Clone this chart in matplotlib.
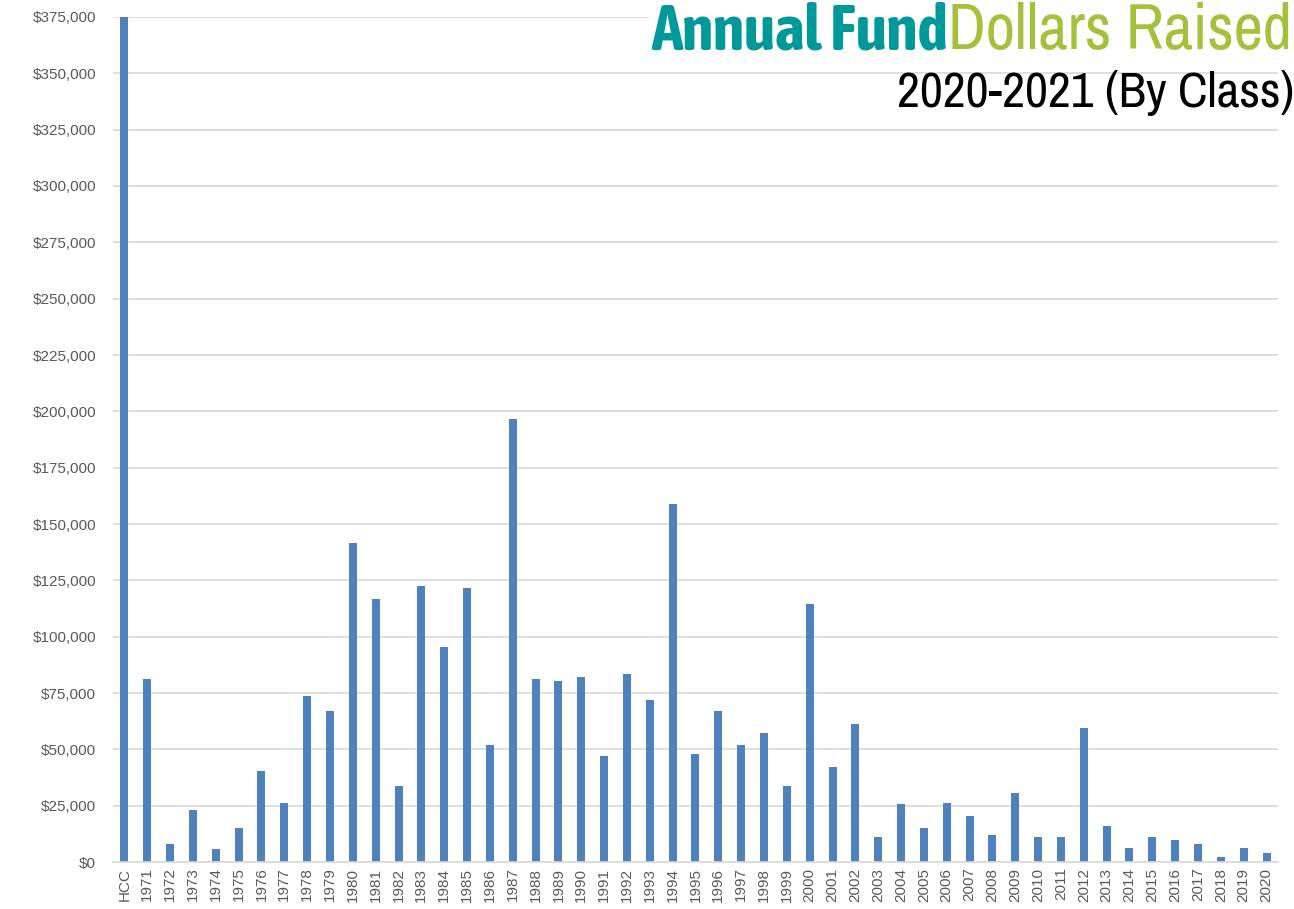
import matplotlib
matplotlib.use("Agg")
import matplotlib.pyplot as plt
import matplotlib.font_manager as fm
from matplotlib.ticker import FuncFormatter, MultipleLocator

# class labels and dollars raised
classes = ["HCC"] + [str(y) for y in range(1971, 2021)]
dollars = [
    375000,                                            # HCC (runs off the top)
    81200, 7800, 22900, 5600, 15300, 40300, 26000, 73600, 67000, 141700,   # 1971-1980
    116800, 33600, 122600, 95400, 121700, 51800, 196800, 81200, 80300, 82100,  # 1981-1990
    46900, 83400, 71800, 159000, 47800, 67000, 51800, 57200, 33600, 114500,    # 1991-2000
    42000, 61200, 11300, 25600, 15300, 26000, 20200, 12200, 30500, 11300,      # 2001-2010
    11300, 59400, 16200, 6400, 11300, 9600, 7800, 2000, 6400, 3800,            # 2011-2020
]

bar_color = "#4F81BD"
grid_color = "#D9D9D9"
label_color = "#595959"
teal = "#00999A"
lime = "#A5C03B"


def weight_num(w):
    return w if isinstance(w, int) else fm.weight_dict.get(w, 400)


# narrow faces for the title if any are installed, else Liberation Sans
weights = {}
for f in fm.fontManager.ttflist:
    if "Narrow" in f.name or "Condensed" in f.name:
        weights.setdefault(f.name, set()).add(weight_num(f.weight))
regular_family = next((n for n, w in weights.items() if 400 in w), "Liberation Sans")
bold_family = next((n for n, w in weights.items() if max(w) >= 600), "Liberation Sans")

fig = plt.figure(figsize=(12.94, 9.09), dpi=100)
ax = fig.add_axes([0.0873, 0.0517, 0.9003, 0.9296])

x = range(len(classes))
ax.bar(x, dollars, width=0.35, color=bar_color, zorder=2)

ax.set_xlim(-0.5, len(classes) - 0.5)
ax.set_ylim(0, 375000)
ax.yaxis.set_major_locator(MultipleLocator(25000))
ax.yaxis.set_major_formatter(FuncFormatter(lambda v, p: f"${v:,.0f}"))
ax.set_xticks(list(x))
ax.set_xticklabels(classes, rotation=90)

for lbl in ax.get_xticklabels() + ax.get_yticklabels():
    lbl.set_family("Liberation Sans")
    lbl.set_fontsize(11)
    lbl.set_color(label_color)

ax.tick_params(axis="y", length=0, pad=12)
ax.tick_params(axis="x", length=0, pad=4)
ax.grid(axis="y", color=grid_color, linewidth=1.2, zorder=0)
ax.set_axisbelow(True)
for side in ["top", "right", "left"]:
    ax.spines[side].set_visible(False)
ax.spines["bottom"].set_color(grid_color)
ax.spines["bottom"].set_linewidth(1.2)
ax.spines["bottom"].set_zorder(3)

# title, two colours on one line, with a white box behind it
W, H = 1294, 909
base1 = 1 - 49 / H
white = dict(facecolor="white", edgecolor="none", pad=2)
t2 = fig.text(1292 / W, base1, "Dollars Raised", ha="right", va="baseline",
              fontsize=44, color=lime, zorder=5,
              family=[regular_family, "DejaVu Sans"])
t3 = fig.text(1, 1 - 107 / H, "2020-2021 (By Class)", ha="right", va="baseline",
              fontsize=35, color="black", zorder=5,
              family=[regular_family, "DejaVu Sans"])

# fit the title pieces to their widths in the reference, no taller than it
r = fig.canvas.get_renderer()
for t, width, cap in [(t2, 349, 46), (t3, 406, 36)]:
    w = t.get_window_extent(r).width
    t.set_fontsize(min(t.get_fontsize() * width / w, cap))

left = t2.get_window_extent(r).x0 / W
t1 = fig.text(left, base1, "Annual Fund", ha="right", va="baseline",
              fontsize=44, fontweight="bold", color=teal, zorder=5,
              family=[bold_family, "DejaVu Sans"])
w = t1.get_window_extent(r).width
t1.set_fontsize(min(44 * 323 / w, 46))
t2.set_bbox(white)
t1.set_bbox(white)

fig.savefig("out.png", dpi=100)
